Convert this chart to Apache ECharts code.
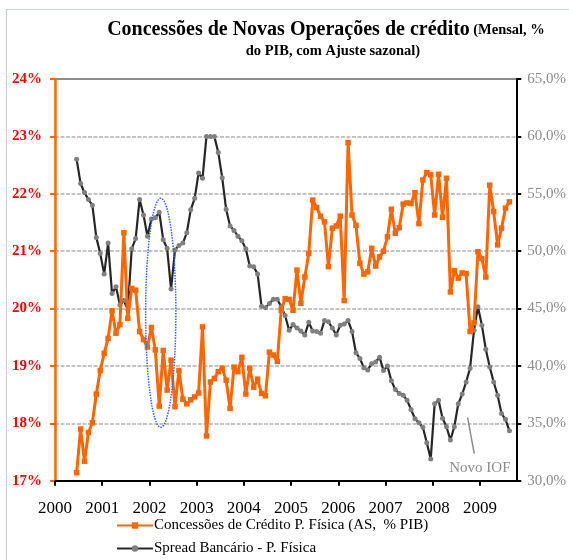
<!DOCTYPE html>
<html><head><meta charset="utf-8">
<script src="https://cdn.jsdelivr.net/npm/echarts@6/dist/echarts.min.js"></script>
<style>html,body{margin:0;padding:0;background:#fff}#c{width:569px;height:560px}</style>
</head><body><div id="c"></div>
<script>
// Monthly data, June 2000 .. Aug 2009
const startYear = 2000;
const startMonthIndex = 5; // June 2000 (Jan = 0)
const concessoes = [
  17.14,17.90,17.34,17.84,18.01,18.51,18.92,
  19.22,19.48,19.96,19.57,19.72,21.32,19.83,20.35,20.32,19.60,19.46,19.33,
  19.67,19.28,18.30,19.27,18.58,19.10,18.29,18.92,18.42,18.34,18.41,18.46,
  18.53,19.68,17.78,18.72,18.78,18.90,18.96,18.75,18.26,18.98,18.90,19.15,
  18.51,18.96,18.63,18.77,18.52,18.48,19.24,19.19,19.08,19.97,20.17,20.16,
  19.97,20.67,20.09,20.55,20.96,21.89,21.76,21.61,21.51,20.73,21.40,21.44,
  21.61,20.14,22.89,21.63,21.45,20.79,20.60,20.64,21.05,20.74,20.90,21.00,
  21.25,21.73,21.31,21.41,21.82,21.84,21.83,22.02,21.48,22.24,22.37,22.33,
  21.63,22.34,21.59,22.27,20.29,20.66,20.53,20.62,20.61,19.60,19.75,20.99,
  20.87,20.55,22.15,21.69,21.11,21.40,21.75,21.86
];
const spread = [
  58.0,55.9,55.1,54.5,54.0,51.2,49.8,
  48.0,50.7,46.3,46.9,45.3,45.7,44.9,50.2,51.1,54.5,53.15,51.3,
  52.8,52.9,53.4,51.0,50.25,46.7,50.1,50.5,50.7,51.6,53.6,54.6,
  56.8,56.35,60.0,60.0,60.0,58.6,56.4,53.65,52.2,51.8,51.3,50.9,
  50.2,48.7,48.65,48.0,45.2,45.07,45.45,45.8,45.8,45.15,44.4,43.1,
  43.6,43.3,43.05,42.7,43.8,43.05,43.0,42.85,43.95,43.85,43.3,42.7,
  43.55,43.65,43.95,43.0,41.15,40.65,39.85,39.65,40.2,40.35,40.75,39.6,
  40.0,38.7,37.95,37.6,37.45,37.0,36.2,35.4,35.05,34.65,33.3,31.9,
  36.7,37.0,35.45,34.7,33.55,34.7,36.7,37.55,38.6,39.8,43.1,45.15,
  43.55,41.45,39.9,38.6,37.45,35.85,35.35,34.35
];
const yearLabels = [2000,2001,2002,2003,2004,2005,2006,2007,2008,2009];
const seriesNames = ['Concessões de Crédito P. Física (AS,  % PIB)', 'Spread Bancário - P. Física'];
const titleMain = 'Concessões de Novas Operações de crédito';
const titleSub1 = '(Mensal, %';
const titleSub2 = 'do PIB, com Ajuste sazonal)';
const annotationText = 'Novo IOF';

const FONT = '"Liberation Serif", "DejaVu Serif", serif';
function monthX(i){ return startYear + (startMonthIndex + i + 0.5) / 12; }
const orangeData = concessoes.map((v,i)=>[monthX(i), v]);
const blackData = spread.map((v,i)=>[monthX(i), v]);

const legendBase = {
  orient:'horizontal', left:116, itemWidth:36, itemHeight:8, padding:0,
  textStyle:{fontFamily:FONT, fontSize:15, color:'#000', padding:[0,0,0,-4]},
  selectedMode:false
};

const chart = echarts.init(document.getElementById('c'), null, {renderer:'canvas'});
const option = {
  animation:false,
  backgroundColor:'#fff',
  grid:{left:55, right:52, top:79, bottom:79.3, containLabel:false},
  legend:[
    Object.assign({}, legendBase, {top:518, data:[seriesNames[0]]}),
    Object.assign({}, legendBase, {top:541, data:[seriesNames[1]]})
  ],
  xAxis:[{
    type:'value', min:2000, max:2009.77,
    axisLine:{lineStyle:{color:'#000', width:2}},
    axisTick:{show:true, customValues:yearLabels, length:5, lineStyle:{color:'#000', width:2}},
    axisLabel:{customValues:yearLabels, margin:19, fontFamily:FONT, fontSize:17, color:'#000', formatter:v=>String(Math.round(v))},
    splitLine:{show:false}
  },{
    type:'value', min:2000, max:2009.77, position:'top',
    axisLine:{show:true, lineStyle:{color:'#8c8c8c', width:2}},
    axisTick:{show:false}, axisLabel:{show:false}, splitLine:{show:false}
  }],
  yAxis:[{
    type:'value', min:17, max:24, interval:1, position:'left',
    axisLine:{show:true, lineStyle:{color:'#ff6600', width:2.5}},
    axisTick:{show:true, length:5, lineStyle:{color:'#ff6600', width:2}},
    axisLabel:{margin:13, fontFamily:FONT, fontSize:15, fontWeight:'bold', color:'#ff0000', formatter:'{value}%'},
    splitLine:{show:true, lineStyle:{color:'#c4c4c4', width:2, type:[4,1.5]}}
  },{
    type:'value', min:30, max:65, interval:5, position:'right',
    axisLine:{show:true, lineStyle:{color:'#000', width:2}},
    axisTick:{show:true, length:5, lineStyle:{color:'#000', width:2}},
    axisLabel:{margin:11, fontFamily:FONT, fontSize:15, color:'#8c8c8c', formatter:v=>v.toFixed(1).replace('.',',')+'%'},
    splitLine:{show:false}
  }],
  series:[{
    name:seriesNames[1], type:'line', yAxisIndex:1, data:blackData,
    symbol:'circle', symbolSize:5, showAllSymbol:true,
    lineStyle:{color:'#262626', width:2.2},
    itemStyle:{color:'#808080', borderWidth:0},
    z:2
  },{
    name:seriesNames[0], type:'line', yAxisIndex:0, data:orangeData,
    symbol:'rect', symbolSize:5.5, showAllSymbol:true,
    lineStyle:{color:'#ff6600', width:3},
    itemStyle:{color:'#ff6600', borderWidth:0},
    z:3
  }]
};
chart.setOption(option);

// Annotations placed through the axes' scales
const L = (x,y)=>chart.convertToPixel({xAxisIndex:0, yAxisIndex:0}, [x,y]);
const R = (x,y)=>chart.convertToPixel({xAxisIndex:0, yAxisIndex:1}, [x,y]);
const eTop = L(2002.23, 21.92), eBot = L(2002.23, 17.93);
const eLeft = L(2001.92, 20), eRight = L(2002.56, 20);
const ioA = R(2008.74, 35.5), ioB = R(2008.88, 32.35), ioT = R(2009.0, 31.1);

chart.setOption({
  graphic:[
    {type:'rect', shape:{x:6.5, y:9.5, width:700, height:700}, style:{fill:null, stroke:'#c9d2e0', lineWidth:1.2}, silent:true, z:0},
    {type:'text', x:326, y:30, style:{
      text:'{a|'+titleMain+'} {b|'+titleSub1+'}', align:'center', verticalAlign:'middle',
      rich:{a:{fontFamily:FONT, fontSize:20, fontWeight:'bold', fill:'#000'}, b:{fontFamily:FONT, fontSize:14.5, fontWeight:'bold', fill:'#000'}}
    }},
    {type:'text', x:333, y:51, style:{text:titleSub2, align:'center', verticalAlign:'middle', fontFamily:FONT, fontSize:14.5, fontWeight:'bold', fill:'#000'}},
    {type:'ellipse', shape:{cx:(eLeft[0]+eRight[0])/2, cy:(eTop[1]+eBot[1])/2, rx:(eRight[0]-eLeft[0])/2, ry:(eBot[1]-eTop[1])/2},
      style:{fill:null, stroke:'#2f5fff', lineWidth:1.5, lineDash:[1.5,1.2]}, z:10},
    {type:'line', shape:{x1:ioA[0], y1:ioA[1], x2:ioB[0], y2:ioB[1]}, style:{stroke:'#8c8c8c', lineWidth:1.5}, z:10},
    {type:'text', x:ioT[0], y:ioT[1], style:{text:annotationText, align:'center', verticalAlign:'middle', fontFamily:FONT, fontSize:15, fill:'#8c8c8c'}, z:10}
  ]
});
</script>
</body></html>
